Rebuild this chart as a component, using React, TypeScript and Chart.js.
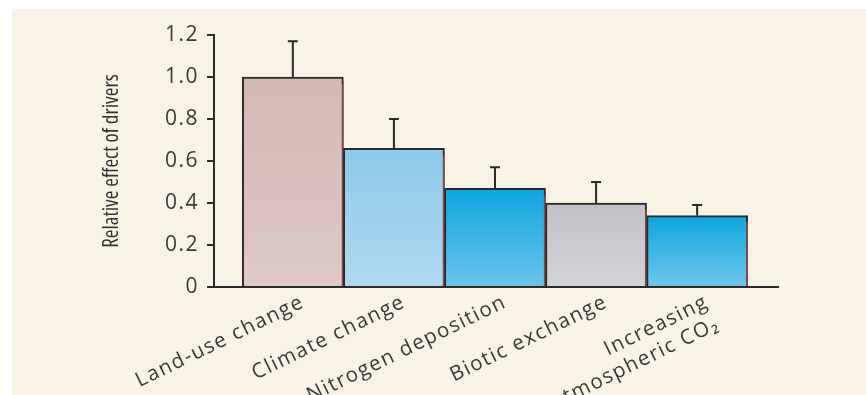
import React, { useEffect, useRef } from 'react';
import { Chart, registerables } from 'chart.js';

Chart.register(...registerables);

// Drivers of biodiversity change and their relative effect
const DRIVERS = [
  'Land-use change',
  'Climate change',
  'Nitrogen deposition',
  'Biotic exchange',
  'Increasing atmospheric CO₂',
];
const DRIVER_LABELS: (string | string[])[] = [
  'Land-use change',
  'Climate change',
  'Nitrogen deposition',
  'Biotic exchange',
  ['Increasing', 'atmospheric CO₂'],
];
const EFFECT = [1.0, 0.66, 0.47, 0.4, 0.34];
const EFFECT_ERROR = [0.17, 0.14, 0.1, 0.1, 0.05];
const Y_TICKS = [0, 0.2, 0.4, 0.6, 0.8, 1.0, 1.2];

const BAR_TOP = ['#d3b9b4', '#8dc9e9', '#0ea6df', '#c2c3c9', '#0da6df'];
const BAR_BOTTOM = ['#dec9c5', '#afd9f0', '#6bc4ea', '#d3d4d8', '#70c6eb'];

const INK = '#2b2b2b';
const TEXT = '#3a3a3a';
const LABEL_FONT = "'Open Sans', 'DejaVu Sans', sans-serif";
const TITLE_FONT = "'Open Sans', 'Liberation Sans Narrow', 'DejaVu Sans Condensed', sans-serif";

// Soft drop shadow to the lower right of every bar
const barShadow = {
  id: 'barShadow',
  beforeDatasetsDraw(chart: any) {
    const c = chart.ctx;
    c.save();
    c.shadowColor = 'rgba(140, 80, 78, 0.85)';
    c.shadowOffsetX = 6;
    c.shadowOffsetY = 5;
    c.shadowBlur = 2;
  },
  afterDatasetsDraw(chart: any) {
    chart.ctx.restore();
  },
};

// Upper whiskers: value -> value + error
const errorBars = {
  id: 'errorBars',
  afterDatasetsDraw(chart: any) {
    const c = chart.ctx;
    const y = chart.scales.y;
    const meta = chart.getDatasetMeta(0);
    c.save();
    c.strokeStyle = INK;
    c.lineWidth = 2;
    meta.data.forEach((bar: any, i: number) => {
      const top = y.getPixelForValue(EFFECT[i]);
      const end = y.getPixelForValue(EFFECT[i] + EFFECT_ERROR[i]);
      c.beginPath();
      c.moveTo(bar.x, top);
      c.lineTo(bar.x, end);
      c.moveTo(bar.x - 5, end);
      c.lineTo(bar.x + 5, end);
      c.stroke();
    });
    c.restore();
  },
};

// Wide tracking for the tick labels; the axis title keeps normal spacing
const labelSpacing = {
  id: 'labelSpacing',
  beforeDraw(chart: any) {
    chart.ctx.letterSpacing = '0px';
  },
  afterDatasetsDraw(chart: any) {
    chart.ctx.letterSpacing = '1.5px';
  },
};

function gradientFor(ctx: any) {
  const i = ctx.dataIndex ?? 0;
  const chart = ctx.chart;
  const area = chart.chartArea;
  if (!area || !chart.scales.y) return BAR_TOP[i];
  const top = chart.scales.y.getPixelForValue(EFFECT[i]);
  const g = chart.ctx.createLinearGradient(0, top, 0, area.bottom);
  g.addColorStop(0, BAR_TOP[i]);
  g.addColorStop(1, BAR_BOTTOM[i]);
  return g;
}

export default function App() {
  const canvasRef = useRef<HTMLCanvasElement>(null);

  useEffect(() => {
    if (!canvasRef.current) return;
    const chart = new Chart(canvasRef.current, {
      type: 'bar',
      data: {
        labels: DRIVERS,
        datasets: [
          {
            label: 'Relative effect of drivers',
            data: EFFECT.map((v, i) => ({ x: i, y: v })) as any,
            backgroundColor: gradientFor as any,
            borderColor: INK,
            borderWidth: 2,
            categoryPercentage: 1,
            barPercentage: 1,
            clip: { left: 10, top: 10, right: 10, bottom: 0 } as any,
          },
        ],
      },
      options: {
        responsive: false,
        animation: false,
        layout: { padding: { top: 35, right: 88, left: 0, bottom: 0 } },
        plugins: {
          legend: { display: false },
          tooltip: { enabled: false },
        },
        scales: {
          x: {
            type: 'linear',
            min: -0.78,
            max: 4.8,
            offset: false,
            afterFit: (s: any) => {
              s.height = 108;
            },
            afterBuildTicks: (s: any) => {
              s.ticks = DRIVER_LABELS.map((_, i) => ({ value: i }));
            },
            grid: { display: false },
            border: { color: INK, width: 2, z: 1 } as any,
            ticks: {
              autoSkip: false,
              minRotation: 26,
              maxRotation: 26,
              labelOffset: 10,
              padding: -5,
              color: TEXT,
              z: 1,
              font: { family: LABEL_FONT, size: 20.5, weight: '400' as any },
              callback: (v: any) => DRIVER_LABELS[Math.round(Number(v))] as any,
            },
          },
          y: {
            min: 0,
            max: 1.2,
            afterFit: (s: any) => {
              s.width = 214;
            },
            afterBuildTicks: (s: any) => {
              s.ticks = Y_TICKS.map((v) => ({ value: v }));
            },
            grid: { drawOnChartArea: false, tickLength: 7, lineWidth: 2, color: INK },
            border: { color: INK, width: 2, z: 1 } as any,
            ticks: {
              padding: 8,
              color: TEXT,
              z: 1,
              font: { family: LABEL_FONT, size: 21, weight: '400' as any },
              callback: (v: any) => (Number(v) === 0 ? '0' : Number(v).toFixed(1)),
            },
            title: {
              display: true,
              text: 'Relative effect of drivers',
              color: '#333333',
              font: { family: TITLE_FONT, size: 21, weight: '500 condensed' as any },
              padding: { top: 99, bottom: 0 },
            },
          },
        },
      },
      plugins: [barShadow, errorBars, labelSpacing],
    });
    return () => chart.destroy();
  }, []);

  return (
    <div style={{ position: 'fixed', left: 0, top: 0, width: 866, height: 395, background: '#ffffff', overflow: 'hidden' }}>
      <div style={{ position: 'absolute', left: 12, top: 9, right: 0, bottom: 0, background: '#f8f3e5' }} />
      <canvas ref={canvasRef} width={866} height={395} style={{ position: 'absolute', left: 0, top: 0 }} />
    </div>
  );
}
